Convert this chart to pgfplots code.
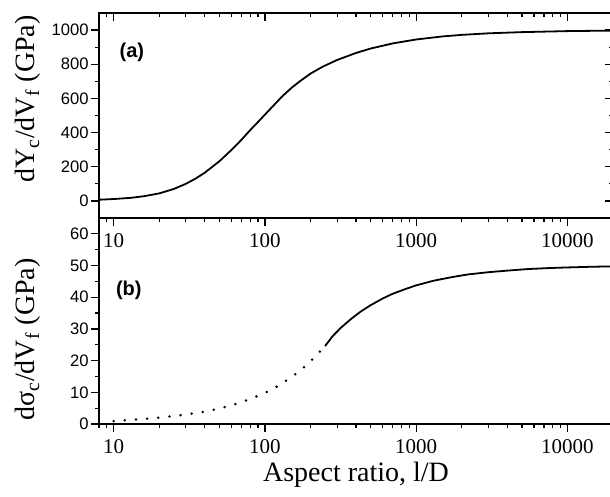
\documentclass[border=0pt]{standalone}
\usepackage{fontspec}
\setmainfont{Liberation Serif}
\setsansfont{Liberation Sans}
\usepackage{pgfplots}
\pgfplotsset{compat=1.18}

\pgfplotsset{
  every axis/.append style={
    axis line style={line width=0.7pt},
    tick style={line width=0.6pt, black},
    major tick length=4pt, minor tick length=2pt,
    xticklabel style={font=\fontsize{10.5}{12}\selectfont},
    yticklabel style={font=\sffamily\fontsize{8.3}{9}\selectfont, inner sep=1pt},
    label style={font=\fontsize{14}{16}\selectfont},
  }
}

\begin{document}
\begin{tikzpicture}
% (b) lower panel
\begin{axis}[name=bot, at={(0,0)}, scale only axis, width=257pt, height=103pt,
    xmode=log, xmin=8, xmax=20000,
    xtick={10,100,1000,10000}, xticklabels={10,100,1000,10000},
    minor xtick={8,9,20,30,40,50,60,70,80,90,200,300,400,500,600,700,800,900,
      2000,3000,4000,5000,6000,7000,8000,9000,20000},
    ymin=0, ymax=65, ytick={0,10,...,60}, minor y tick num=1,
    /pgf/number format/assume math mode=true,
    tick align=outside, xtick pos=left, ytick pos=left,
    xlabel={Aspect ratio, l/D},
    xlabel style={at={(axis description cs:0.5,-0.277)}, anchor=base},
    ylabel={dσ\textsubscript{c}/dV\textsubscript{f} (GPa)},
    ylabel style={at={(axis description cs:-0.138,0.41)}, anchor=center}]
  % dotted part
  \addplot[black, line width=1.4pt, line cap=round, dash pattern=on 0pt off 5.6pt]
    coordinates {(10,0.9) (12,1.2) (15,1.5) (20,2.0) (25,2.5) (30,3.0) (40,3.9)
      (50,4.9) (60,5.9) (70,6.9) (80,7.9) (100,9.8) (120,11.8) (150,14.8)
      (180,17.8) (210,20.8) (250,24.6)};
  % solid part
  \addplot[black, line width=0.9pt]
    coordinates {(250,24.6) (280,27.7) (320,30.5) (370,33.1) (430,35.5) (500,37.5)
      (600,39.6) (700,41.1) (850,42.6) (1000,43.75) (1300,45.2) (1700,46.3)
      (2200,47.2) (3000,47.9) (4000,48.4) (5500,48.9) (7500,49.2) (10000,49.4)
      (14000,49.6) (20000,49.75)};
  \node[font=\sffamily\bfseries\fontsize{10}{12}\selectfont] at (axis cs:12.6,42.3) {(b)};
\end{axis}

% (a) upper panel
\begin{axis}[name=top, at={(0,103pt)}, scale only axis, width=257pt, height=102.5pt,
    xmode=log, xmin=8, xmax=20000,
    xtick={10,100,1000,10000}, xticklabels={10,100,1000,10000},
    minor xtick={8,9,20,30,40,50,60,70,80,90,200,300,400,500,600,700,800,900,
      2000,3000,4000,5000,6000,7000,8000,9000,20000},
    ymin=-100, ymax=1100, ytick={0,200,...,1000}, minor y tick num=1,
    /pgf/number format/assume math mode=true,
    /pgf/number format/1000 sep={},
    tick align=outside, xtick pos=left, ytick pos=left,
    ylabel={dY\textsubscript{c}/dV\textsubscript{f} (GPa)},
    ylabel style={at={(axis description cs:-0.138,0.58)}, anchor=center}]
  \addplot[black, line width=0.9pt]
    coordinates {(8,7) (10,11) (13,18) (16,28) (20,44) (25,70) (30,100) (35,132)
      (40,165) (50,232) (60,298) (70,358) (80,415) (90,462) (100,505) (115,562)
      (130,612) (150,662) (170,700) (200,745) (240,785) (300,825) (400,866)
      (500,892) (700,922) (1000,945) (1500,963) (2000,972) (3000,981)
      (5000,988) (10000,994) (20000,997)};
  \node[font=\sffamily\bfseries\fontsize{10}{12}\selectfont] at (axis cs:13.2,871) {(a)};
\end{axis}

% inward ticks on the top and right of the upper panel
\begin{axis}[at={(0,103pt)}, scale only axis, width=257pt, height=102.5pt,
    xmode=log, xmin=8, xmax=20000,
    xtick={10,100,1000,10000},
    minor xtick={8,9,20,30,40,50,60,70,80,90,200,300,400,500,600,700,800,900,
      2000,3000,4000,5000,6000,7000,8000,9000,20000},
    ymin=-100, ymax=1100, ytick={0,200,...,1000}, minor y tick num=1,
    tick align=inside, xtick pos=right, ytick pos=right,
    xticklabels={}, yticklabels={}]
\end{axis}

\pgfresetboundingbox
\useasboundingbox (-49.5pt,-36.5pt) rectangle (255.5pt,212pt);
\end{tikzpicture}
\end{document}
